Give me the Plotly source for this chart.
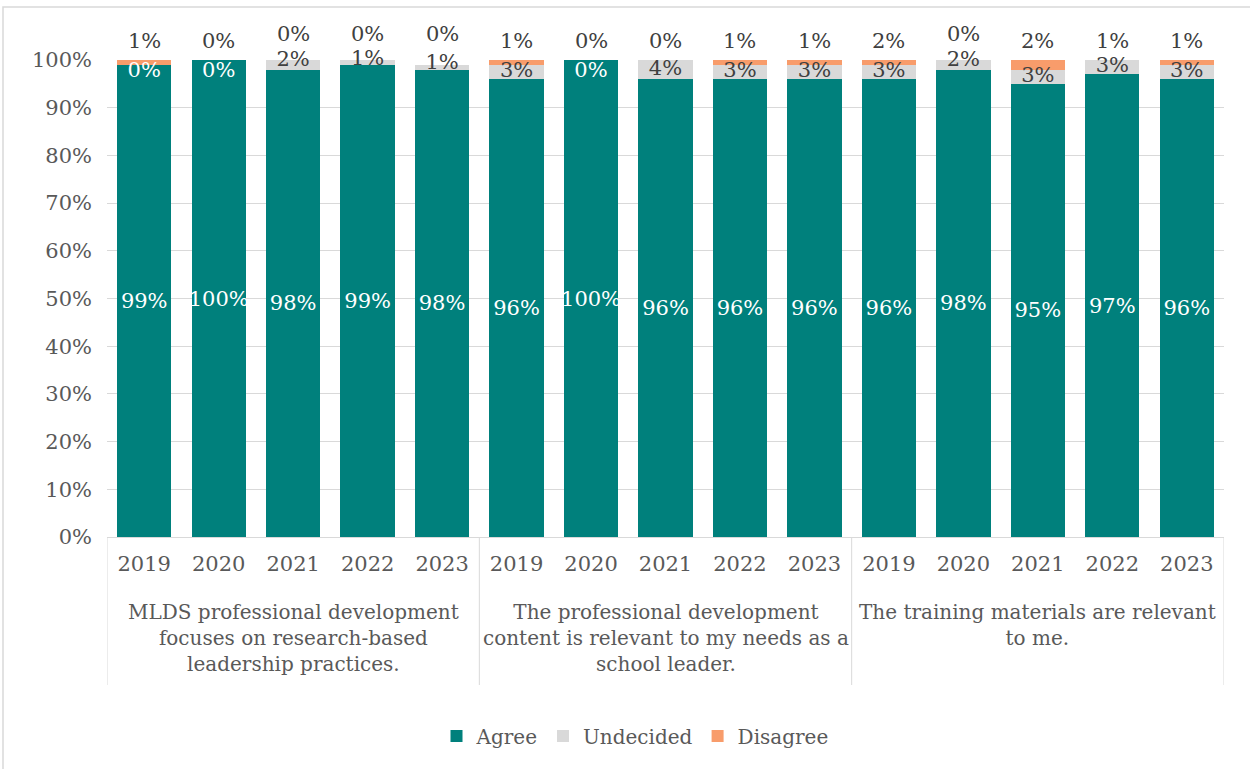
import plotly.graph_objects as go

groups = [
    "MLDS professional development<br>focuses on research-based<br>leadership practices.",
    "The professional development<br>content is relevant to my needs as a<br>school leader.",
    "The training materials are relevant<br>to me.",
]
years = ["2019", "2020", "2021", "2022", "2023"]

agree = [99, 100, 98, 99, 98, 96, 100, 96, 96, 96, 96, 98, 95, 97, 96]
undecided = [0, 0, 2, 1, 1, 3, 0, 4, 3, 3, 3, 2, 3, 3, 3]
disagree = [1, 0, 0, 0, 0, 1, 0, 0, 1, 1, 2, 0, 2, 1, 1]

ny = len(years)
n = len(agree)
xs = list(range(n))
ticktext = [years[i % ny] for i in xs]

TEAL = "#00807C"
GREY = "#D9D9D9"
ORANGE = "#F89C6B"
TXT = "#595959"
DARK = "#404040"
FONT = "DejaVu Serif"

W, H = 1250, 769
PL, PR, PT, PB = 107, 1224, 60, 537          # plot area in pixels
L, T = PL, PT
R, B = W - PR, H - PB
pw, ph = PR - PL, PB - PT


def py(Y):  # pixel row -> paper y
    return (PB - Y) / ph


def px(X):  # pixel column -> paper x
    return (X - PL) / pw


fig = go.Figure()
fig.add_trace(go.Bar(
    x=xs, y=agree, name="Agree", marker_color=TEAL, marker_line_width=0,
    text=[f"{v}%" for v in agree], textposition="inside", textangle=0,
    insidetextanchor="middle", constraintext="none",
    textfont=dict(color="white", size=21, family=FONT),
))
fig.add_trace(go.Bar(
    x=xs, y=undecided, name="Undecided", marker_color=GREY, marker_line_width=0,
))
fig.add_trace(go.Bar(
    x=xs, y=disagree, name="Disagree", marker_color=ORANGE, marker_line_width=0,
))

# label placement: crowded tops get nudged like the spreadsheet does
und_y, dis_row = [], []
for a, u, d in zip(agree, undecided, disagree):
    c = a + u / 2
    if u == 0:
        und_y.append(min(c, 97.5))
        dis_row.append(41)
    elif d == 0 and c >= 98.5:
        und_y.append(min(c + 0.8, 100))
        dis_row.append(34)
    else:
        und_y.append(c)
        dis_row.append(41)
und_col = [DARK if u > 0 else "white" for u in undecided]
fig.add_trace(go.Scatter(
    x=xs, y=und_y, mode="text", text=[f"{v}%" for v in undecided],
    textfont=dict(color=und_col, size=21, family=FONT),
    showlegend=False, hoverinfo="skip", cliponaxis=False,
))
# Disagree labels above the bars
for xi, v, row in zip(xs, disagree, dis_row):
    fig.add_annotation(x=xi, xref="x", y=py(row), yref="paper", yanchor="middle",
                       text=f"{v}%", showarrow=False,
                       font=dict(color=DARK, size=21, family=FONT))

fig.update_layout(
    width=W, height=H, autosize=False,
    barmode="stack", bargap=0.27,
    margin=dict(l=L, r=R, t=T, b=B, autoexpand=False),
    paper_bgcolor="white", plot_bgcolor="white",
    font=dict(family=FONT, size=20, color=TXT),
    legend=dict(orientation="h", x=px(635), xanchor="center", y=py(736),
                yanchor="middle", font=dict(size=20, color=TXT),
                traceorder="normal"),
    showlegend=True,
)
fig.update_yaxes(range=[0, 100], dtick=10, ticksuffix="%", showgrid=True,
                 gridcolor="#D9D9D9", gridwidth=1, zeroline=False,
                 showline=False, tickfont=dict(size=21, color=TXT),
                 automargin=False, ticks="", ticklabelstandoff=14)
fig.update_xaxes(range=[-0.5, n - 0.5], tickmode="array", tickvals=xs,
                 ticktext=ticktext, showline=True, linecolor="#D9D9D9",
                 linewidth=1, showgrid=False, zeroline=False, ticks="",
                 tickfont=dict(size=21, color=TXT), automargin=False,
                 ticklabelstandoff=8)

# category dividers and group labels
for g in range(len(groups) + 1):
    fig.add_shape(type="line", xref="x", yref="paper",
                  x0=g * ny - 0.5, x1=g * ny - 0.5, y0=0, y1=py(685),
                  line=dict(color="#D9D9D9", width=1))
for g, name in enumerate(groups):
    fig.add_annotation(x=g * ny + (ny - 1) / 2, xref="x", yref="paper",
                       y=py(598), yanchor="top", text=name,
                       showarrow=False, font=dict(size=20, color=TXT, family=FONT),
                       align="center")

# outer chart border
fig.add_shape(type="rect", xref="paper", yref="paper",
              x0=px(3), x1=px(1262), y0=py(782), y1=py(7),
              line=dict(color="#D9D9D9", width=1.5), fillcolor="rgba(0,0,0,0)",
              layer="below")

fig.write_html("out.html",
               config={"displayModeBar": False},
               post_script="document.body.style.margin='0px';"
                           "document.body.style.overflow='hidden';")
